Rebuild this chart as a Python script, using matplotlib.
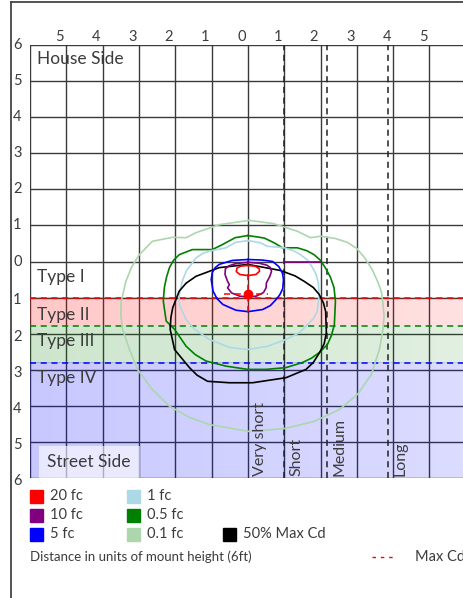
import matplotlib
matplotlib.use('Agg')
import matplotlib.pyplot as plt
from matplotlib.patches import Rectangle
from matplotlib.lines import Line2D
import numpy as np

W, H = 464, 598

# iso-footcandle lines, in mount heights (x across, y > 0 is house side)
fc20_x = [0.0, 0.20, 0.31, 0.32, 0.22, 0.0, -0.22, -0.32, -0.30, -0.20, 0.0]
fc20_y = [-0.11, -0.13, -0.20, -0.27, -0.36, -0.39, -0.36, -0.28, -0.18, -0.13, -0.11]

fc10_x = [0.0, 0.32, 0.52, 0.62, 0.65, 0.59, 0.51, 0.50, 0.43, 0.23, 0.0, -0.23, -0.45,
          -0.56, -0.51, -0.56, -0.63, -0.62, -0.52, -0.34, 0.0]
fc10_y = [-0.02, -0.05, -0.10, -0.17, -0.28, -0.44, -0.59, -0.73, -0.86, -0.96, -0.98,
          -0.96, -0.87, -0.73, -0.64, -0.55, -0.36, -0.20, -0.12, -0.06, -0.02]
# stray piece of the 10 fc line
fc10b_x = [1.0, 2.0]
fc10b_y = [0.0, 0.0]

fc5_x = [0.0, 0.40, 0.68, 0.85, 0.95, 0.98, 0.96, 0.88, 0.78, 0.62, 0.41, 0.0, -0.33,
         -0.69, -0.85, -0.96, -1.01, -0.98, -0.90, -0.79, -0.43, 0.0]
fc5_y = [0.055, 0.04, 0.0, -0.14, -0.32, -0.50, -0.75, -0.92, -1.05, -1.22, -1.33,
         -1.39, -1.35, -1.19, -1.03, -0.82, -0.50, -0.30, -0.17, -0.08, 0.03, 0.055]

fc1_x = [0.0, 0.34, 0.54, 0.80, 1.0, 1.25, 1.45, 1.65, 1.78, 1.88, 1.94, 1.96, 1.91,
         1.82, 1.69, 1.42, 1.05, 0.54, 0.0, -0.51, -1.06, -1.47, -1.70, -1.86, -1.90,
         -1.87, -1.80, -1.70, -1.43, -1.25, -1.06, -0.60, -0.34, 0.0]
fc1_y = [0.58, 0.52, 0.42, 0.40, 0.38, 0.30, 0.19, 0.03, -0.17, -0.36, -0.60, -0.91,
         -1.38, -1.56, -1.70, -1.97, -2.16, -2.35, -2.44, -2.38, -2.16, -1.88, -1.61,
         -1.27, -1.05, -0.82, -0.52, -0.27, 0.10, 0.22, 0.29, 0.38, 0.53, 0.58]

fc05_x = [0.0, 0.45, 0.72, 0.95, 1.36, 1.62, 1.82, 2.0, 2.13, 2.27, 2.37, 2.41, 2.38,
          2.30, 2.19, 1.97, 1.75, 1.50, 1.05, 0.5, 0.0, -0.60, -1.15, -1.45, -1.70,
          -2.02, -2.25, -2.33, -2.30, -2.24, -2.16, -2.05, -1.89, -1.53, -0.98, -0.70,
          -0.35, 0.0]
fc05_y = [0.72, 0.65, 0.52, 0.38, 0.38, 0.30, 0.19, 0.03, -0.17, -0.43, -0.72, -1.10,
          -1.75, -2.05, -2.30, -2.52, -2.68, -2.80, -2.94, -2.99, -2.99, -2.90, -2.76,
          -2.58, -2.35, -1.88, -1.65, -1.10, -0.72, -0.43, -0.17, 0.03, 0.19, 0.33,
          0.33, 0.47, 0.66, 0.72]

fc01_x = [0.04, 0.70, 1.36, 1.72, 2.00, 2.40, 2.74, 3.00, 3.21, 3.42, 3.57, 3.68,
          3.71, 3.75, 3.72, 3.62, 3.40, 3.02, 2.52, 1.83, 1.01, 0.04, -1.06, -1.61,
          -2.16, -2.63, -3.04, -3.26, -3.45, -3.50, -3.49, -3.36, -3.20, -2.99, -2.63,
          -2.08, -1.70, -1.43, -0.79, 0.04]
fc01_y = [1.14, 1.05, 0.84, 0.66, 0.70, 0.64, 0.53, 0.36, 0.11, -0.22, -0.55, -0.85,
          -1.11, -1.50, -1.88, -2.44, -3.13, -3.68, -4.10, -4.43, -4.63, -4.71, -4.52,
          -4.32, -4.01, -3.55, -2.99, -2.44, -1.88, -1.50, -1.11, -0.55, -0.15, 0.19,
          0.56, 0.67, 0.66, 0.80, 1.02, 1.14]

cd50_x = [0.0, 0.90, 1.30, 1.55, 1.80, 1.96, 2.08, 2.14, 2.16, 2.10, 1.97, 1.80, 1.60,
          1.05, 0.13, -0.51, -1.11, -1.40, -1.61, -2.02, -2.14, -2.12, -2.07, -1.89,
          -1.70, -1.43, -0.79, 0.0]
cd50_y = [-0.08, -0.25, -0.40, -0.55, -0.72, -0.91, -1.15, -1.38, -1.97, -2.28, -2.53,
          -2.80, -2.99, -3.22, -3.36, -3.36, -3.32, -3.15, -2.94, -2.44, -1.88, -1.55,
          -1.28, -0.82, -0.60, -0.41, -0.17, -0.08]

# max candela point
max_cd_x = 0.0
max_cd_y = -0.89

# IES classification (distance to street side / along the road)
lateral_names = ['Type I', 'Type II', 'Type III', 'Type IV']
lateral_edges = [0.0, 1.0, 1.8, 2.8, 6.0]
longitudinal_names = ['Very short', 'Short', 'Medium', 'Long']
longitudinal_edges = [0.0, 1.0, 2.17, 3.86]

top_ticks = [-5, -4, -3, -2, -1, 0, 1, 2, 3, 4, 5]
side_ticks = [6, 5, 4, 3, 2, 1, 0, -1, -2, -3, -4, -5, -6]

levels = ['20 fc', '10 fc', '5 fc', '1 fc', '0.5 fc', '0.1 fc', '50% Max Cd']
level_colors = ['#ff0000', '#800080', '#0000ff', '#add8e6', '#008000', '#acd6ac', '#000000']

plt.rcParams['font.family'] = ['Lato', 'DejaVu Sans']
txt = '#3c3c3c'

fig = plt.figure(figsize=(W / 100, H / 100), dpi=100)
ax = fig.add_axes([30 / W, (H - 478) / H, 434 / W, 433 / H])
ax.set_xlim(-6, 5.95)
ax.set_ylim(-6, 6)
ax.axis('off')

# grid
for v in range(-6, 7):
    ax.axvline(v, color='#3a3a3a', lw=1.0, zorder=1)
    ax.axhline(v, color='#3a3a3a', lw=1.0, zorder=1)

# shaded lateral bands with a left-to-right fade
band_colors = [None, (1.0, 0.0, 0.0), (0.0, 0.5, 0.0), (0.0, 0.0, 1.0)]
band_alpha = [None, (0.22, 0.12), (0.20, 0.12), (0.22, 0.14)]
for i in range(1, 4):
    rgba = np.zeros((1, 200, 4))
    rgba[..., :3] = band_colors[i]
    rgba[..., 3] = np.linspace(band_alpha[i][0], band_alpha[i][1], 200)
    ax.imshow(rgba, extent=(-6, 6, -lateral_edges[i + 1], -lateral_edges[i]),
              aspect='auto', zorder=2, interpolation='bilinear')
ax.set_xlim(-6, 5.95)
ax.set_ylim(-6, 6)

dash = (0, (4, 3))
edge_colors = ['#ff0000', '#008000', '#0000ff']
for y, c in zip(lateral_edges[1:4], edge_colors):
    ax.axhline(-y, color=c, lw=1.1, ls=dash, zorder=3)
for x in longitudinal_edges[1:]:
    ax.axvline(x, color='#222222', lw=1.1, ls=dash, zorder=3)

# contours
curves = [(fc01_x, fc01_y), (fc05_x, fc05_y), (fc1_x, fc1_y), (cd50_x, cd50_y),
          (fc5_x, fc5_y), (fc10_x, fc10_y), (fc20_x, fc20_y)]
curve_colors = [level_colors[5], level_colors[4], level_colors[3], level_colors[6],
                level_colors[2], level_colors[1], level_colors[0]]
for (cx, cy), c in zip(curves, curve_colors):
    ax.plot(cx, cy, color=c, lw=1.2, zorder=4, solid_joinstyle='round')
ax.plot(fc10b_x, fc10b_y, color=level_colors[1], lw=1.2, zorder=4)

# max cd marker
ax.plot([max_cd_x - 0.65, max_cd_x + 0.55], [max_cd_y, max_cd_y], color='red',
        lw=1.1, ls=dash, zorder=5)
ax.plot([max_cd_x, max_cd_x], [max_cd_y + 0.55, max_cd_y - 0.55], color='red',
        lw=1.1, ls=dash, zorder=5)
ax.plot(max_cd_x, max_cd_y, 'o', color='red', ms=6, zorder=6)

# labels
fs = 12.5
ax.text(-5.8, 5.6, 'House Side', fontsize=fs, color=txt, va='center', ha='left',
        zorder=7)
type_y = [-0.42, -1.47, -2.2, -3.24]
for name, y in zip(lateral_names, type_y):
    ax.text(-5.8, y, name, fontsize=fs, color=txt, va='center', ha='left', zorder=7)
ax.text(-5.52, -5.57, 'Street Side', fontsize=fs, color=txt, va='center', ha='left',
        zorder=7, bbox=dict(boxstyle='square,pad=0.5', fc='white', ec='none', alpha=0.6))
for name, x in zip(longitudinal_names, longitudinal_edges):
    ax.text(x + 0.34, -5.95, name, fontsize=11.5, color=txt, rotation=90,
            ha='center', va='bottom', zorder=7)

for t in top_ticks:
    ax.text(t - 0.18, 6.23, str(abs(t)), fontsize=10.5, color=txt, ha='center',
            va='center')
for t in side_ticks:
    ax.text(-6.35, t - (0.08 if t < 0 else 0), str(abs(t)), fontsize=10.5, color=txt,
            ha='center', va='center')


def fx(x):
    return x / W


def fy(y):
    return 1 - y / H


# legend
leg_cols = [30, 127, 223]
leg_rows = [496, 515, 534]
slots = [(0, 0), (0, 1), (0, 2), (1, 0), (1, 1), (1, 2), (2, 2)]
for name, c, (ci, ri) in zip(levels, level_colors, slots):
    x0 = leg_cols[ci]
    y0 = leg_rows[ri]
    fig.add_artist(Rectangle((fx(x0), fy(y0 + 6.5)), 13 / W, 13 / H, color=c,
                             transform=fig.transFigure))
    fig.text(fx(x0 + 20), fy(y0), name, fontsize=10.5, color=txt, va='center',
             ha='left')

fig.text(fx(30), fy(557), 'Distance in units of mount height (6ft)', fontsize=9.5,
         color=txt, va='center', ha='left')
fig.add_artist(Line2D([fx(372), fx(394)], [fy(557), fy(557)], color='red', lw=1,
                      ls=(0, (2.5, 3.5)), transform=fig.transFigure))
fig.text(fx(415), fy(557), 'Max Cd', fontsize=10.5, color=txt, va='center', ha='left')

# outer frame
fig.add_artist(Line2D([fx(11), fx(11)], [0, fy(2)], color='#444444', lw=1.3,
                      transform=fig.transFigure))
fig.add_artist(Line2D([fx(11), 1], [fy(2), fy(2)], color='#444444', lw=1.3,
                      transform=fig.transFigure))

fig.savefig('out.png', dpi=100)
